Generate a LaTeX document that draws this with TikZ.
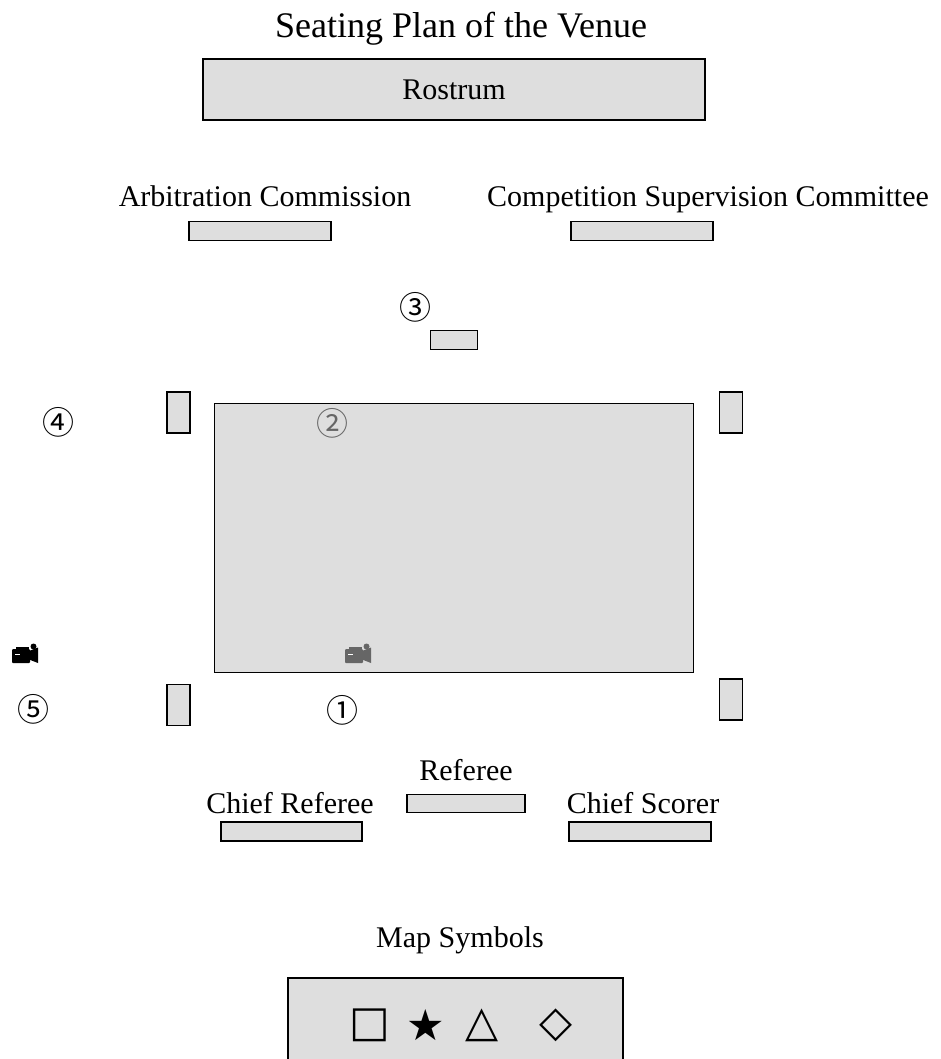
\documentclass[tikz,border=0pt]{standalone}
\usepackage{fontspec}
\setmainfont{Liberation Serif}
\newfontfamily\cjk{Noto Sans CJK SC}
\newfontfamily\symb{DejaVu Sans}
\usetikzlibrary{positioning}
\definecolor{seatgray}{HTML}{DEDEDE}
\definecolor{markgray}{HTML}{666666}
\tikzset{%
	seat/.style     = {draw, rectangle, fill=seatgray, line width=1.8pt, inner sep=0pt}, % Seat block
	hseat/.style    = {seat, minimum width=142pt, minimum height=19pt}, % Table
	vseat/.style    = {seat, minimum width=23pt, minimum height=41pt}, % Side post
	caption/.style  = {inner sep=0pt, font=\fontsize{30}{32}\selectfont}, % Text
	spot/.style     = {inner sep=0pt, font=\cjk\fontsize{32}{32}\selectfont}, % Numbered spot
	mapmark/.style  = {inner sep=0pt, font=\symb\fontsize{43}{43}\selectfont}, % Map symbol
	camcorder/.pic  = {% Camera, origin at top left
		\fill [rounded corners=1pt] (0,5) rectangle (18,19);
		\fill (4,2.5) rectangle (17,5.5);
		\fill (17,7) -- (26,3.5) -- (26,19) -- (17,15.5) -- cycle;
		\fill (21.5,2.5) circle (3);
		\draw [white,line width=1pt] (3,10.5) -- (8,10.5);
	},
}

\begin{document}
\begin{tikzpicture}[x=1pt,y=-1pt]
	\useasboundingbox (0,0) rectangle (940,1059);
	
	\node [caption,font=\fontsize{36}{38}\selectfont,anchor=base] (title) at (461,38) {Seating Plan of the Venue};
	\node [seat,minimum width=502pt,minimum height=61pt,caption] (rostrum) at (454,89.5) {Rostrum};
	
	\node [hseat] (arb) at (260,231) {};
	\node [caption,anchor=base] (arbl) at (265,207) {Arbitration Commission};
	\node [hseat] (csc) at (642,231) {};
	\node [caption,anchor=base] (cscl) at (708,207) {Competition Supervision Committee};
	
	\node [seat,minimum width=47pt,minimum height=19pt] (s3) at (454,340) {};
	\node [spot] (n3) at (415,307) {③};
	
	\node [seat,minimum width=479pt,minimum height=269pt] (field) at (454,538) {};
	\node [spot,text=markgray] (n2) at (332,423) {②};
	\pic [markgray] at (345,644) {camcorder};
	
	\node [vseat] (tl) at (178.5,412.5) {};
	\node [vseat] (tr) at (731,412.5) {};
	\node [vseat] (bl) at (178.5,705) {};
	\node [vseat] (br) at (731,699.5) {};
	\node [spot] (n4) at (58,422) {④};
	\node [spot] (n5) at (33,709) {⑤};
	\node [spot] (n1) at (342,710) {①};
	\pic [black] at (12,644) {camcorder};
	
	\node [seat,minimum width=118pt,minimum height=18pt] (ref) at (466,803.5) {};
	\node [caption] (refl) at (466,770) {Referee};
	\node [hseat,minimum width=141pt] (cref) at (291.5,831.5) {};
	\node [caption] (crefl) at (290,803) {Chief Referee};
	\node [hseat] (cs) at (640,831.5) {};
	\node [caption] (csl) at (643,803) {Chief Scorer};
	
	\node [caption] (legendl) at (460,940) {Map Symbols};
	\draw [seat] (288,978) rectangle (623,1066);
	\node [mapmark] (sq) at (370,1025) {□};
	\node [mapmark] (st) at (426,1025) {★};
	\node [mapmark] (tri) at (482,1025) {△};
	\node [mapmark] (dia) at (556,1025) {◇};
\end{tikzpicture}
\end{document}
